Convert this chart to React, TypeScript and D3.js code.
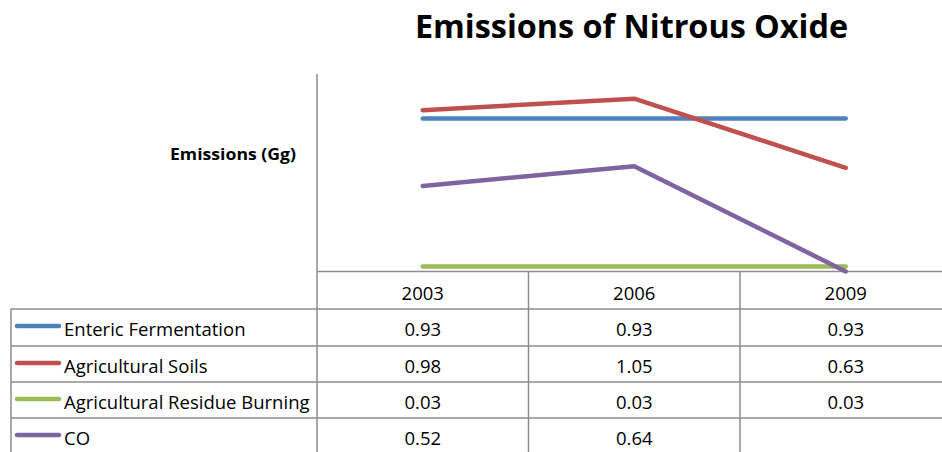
import React from "react";
import * as d3 from "d3";

const years = ["2003", "2006", "2009"];
const seriesNames = ["Enteric Fermentation", "Agricultural Soils", "Agricultural Residue Burning", "CO"];
const enteric = [0.93, 0.93, 0.93];
const soils = [0.98, 1.05, 0.63];
const residue = [0.03, 0.03, 0.03];
const co: (number | null)[] = [0.52, 0.64, null];
const colors = ["#4F81BD", "#C0504D", "#9BBB59", "#8064A2"];
const title = "Emissions of Nitrous Oxide";
const yTitle = "Emissions  (Gg)";

const W = 942, H = 452;
const FONT = "'Open Sans', sans-serif";

export default function App() {
  const allSeries = [enteric, soils, residue, co];
  const x = d3.scaleBand<string>().domain(years).range([317, 951.5]);
  const y = d3.scaleLinear().domain([0, 1.2]).range([271.5, 74]);
  const line = d3
    .line<number | null>()
    .x((_, i) => (x(years[i]) as number) + x.bandwidth() / 2)
    .y((d) => y(d == null ? 0 : d));

  const rowEdges = [271.5, 309, 346, 382, 418, 454];
  const grid = "#8c8c8c";

  return (
    <svg width={W} height={H} style={{ position: "absolute", left: 0, top: 0, background: "#fff" }}>
      <text x={631.5} y={38} textAnchor="middle" fontFamily={FONT} fontWeight="bold" fontSize={33} fill="#000"
        textLength={433} lengthAdjust="spacingAndGlyphs">
        {title}
      </text>
      <text x={296} y={160} textAnchor="end" fontFamily={FONT} fontWeight="bold" fontSize={16.5} fill="#000"
        textLength={126} lengthAdjust="spacingAndGlyphs">
        {yTitle}
      </text>
      {/* axis */}
      <line x1={317} x2={317} y1={74} y2={454} stroke={grid} strokeWidth={1.5} />
      {/* table horizontal lines */}
      <line x1={317} x2={W} y1={rowEdges[0]} y2={rowEdges[0]} stroke={grid} strokeWidth={1.5} />
      {rowEdges.slice(1).map((ry, i) => (
        <line key={i} x1={11} x2={W} y1={ry} y2={ry} stroke={grid} strokeWidth={1.5} />
      ))}
      <line x1={11} x2={11} y1={309} y2={454} stroke={grid} strokeWidth={1.5} />
      {years.map((yr) => (
        <line key={yr} x1={(x(yr) as number) + x.bandwidth()} x2={(x(yr) as number) + x.bandwidth()} y1={271.5} y2={454} stroke={grid} strokeWidth={1.5} />
      ))}
      {/* lines */}
      {allSeries.map((s, i) => (
        <path key={i} d={line(s) || ""} fill="none" stroke={colors[i]} strokeWidth={4.5} strokeLinecap="round" strokeLinejoin="round" />
      ))}
      {/* header */}
      {years.map((yr) => (
        <text key={yr} x={(x(yr) as number) + x.bandwidth() / 2} y={300} textAnchor="middle" fontFamily={FONT} fontSize={18.5} fill="#000">
          {yr}
        </text>
      ))}
      {allSeries.map((s, i) => {
        const top = rowEdges[i + 1];
        const base = top + 26.5;
        return (
          <g key={i}>
            <line x1={17} x2={59} y1={top + 17} y2={top + 17} stroke={colors[i]} strokeWidth={4.5} strokeLinecap="round" />
            <text x={64} y={base} fontFamily={FONT} fontSize={18.5} fill="#000">
              {seriesNames[i]}
            </text>
            {s.map((v, j) =>
              v == null ? null : (
                <text key={j} x={(x(years[j]) as number) + x.bandwidth() / 2} y={base} textAnchor="middle" fontFamily={FONT} fontSize={18.5} fill="#000">
                  {v.toFixed(2)}
                </text>
              )
            )}
          </g>
        );
      })}
    </svg>
  );
}
